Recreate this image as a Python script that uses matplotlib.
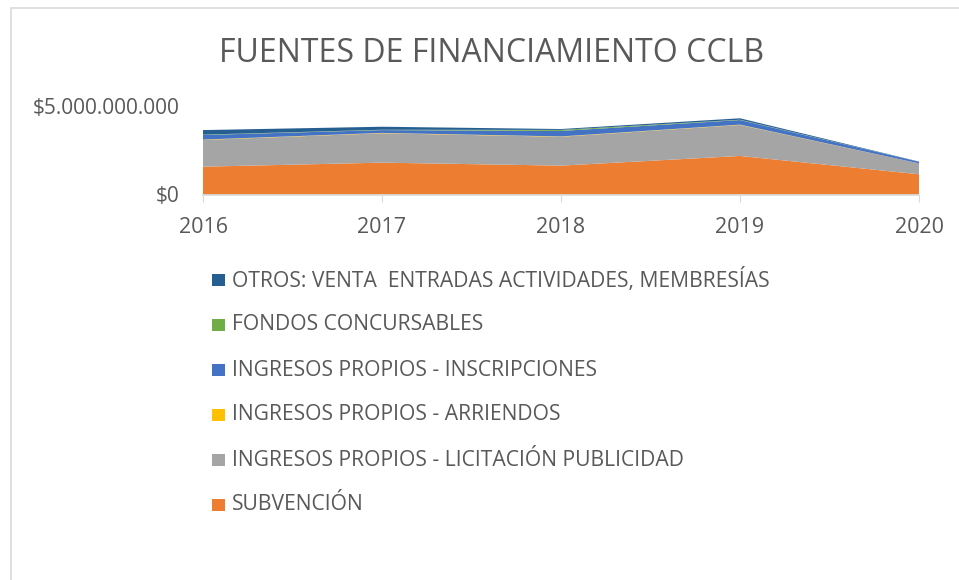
import numpy as np
import matplotlib.pyplot as plt
from matplotlib.patches import Rectangle
from matplotlib.ticker import FuncFormatter

plt.rcParams['font.family'] = ['Open Sans', 'DejaVu Sans']

years = [2016, 2017, 2018, 2019, 2020]
subvencion = [1.58e9, 1.81e9, 1.64e9, 2.19e9, 1.15e9]
licitacion = [1.52e9, 1.67e9, 1.64e9, 1.76e9, 0.62e9]
arriendos = [0.02e9, 0.02e9, 0.02e9, 0.02e9, 0.0]
inscripciones = [0.26e9, 0.16e9, 0.31e9, 0.26e9, 0.09e9]
fondos = [0.02e9, 0.02e9, 0.06e9, 0.02e9, 0.0]
otros = [0.26e9, 0.17e9, 0.05e9, 0.08e9, 0.01e9]

labels = ['SUBVENCIÓN', 'INGRESOS PROPIOS - LICITACIÓN PUBLICIDAD',
          'INGRESOS PROPIOS - ARRIENDOS', 'INGRESOS PROPIOS - INSCRIPCIONES',
          'FONDOS CONCURSABLES', 'OTROS: VENTA  ENTRADAS ACTIVIDADES, MEMBRESÍAS']
colors = ['#ED7D31', '#A5A5A5', '#FFC000', '#4472C4', '#70AD47', '#255E91']
series = [subvencion, licitacion, arriendos, inscripciones, fondos, otros]

text_col = '#595959'
W, H = 959, 580
fig = plt.figure(figsize=(W / 100, H / 100), dpi=100)
ax = fig.add_axes([203 / W, 1 - 194.5 / H, (919 - 203) / W, 88 / H])

ax.stackplot(years, *series, colors=colors, labels=labels, linewidth=0)

ax.set_xlim(2016, 2020)
ax.set_ylim(0, 5e9)
ax.set_yticks([0, 5e9])
ax.yaxis.set_major_formatter(FuncFormatter(lambda v, p: '$' + f'{int(v):,}'.replace(',', '.')))
ax.set_xticks(years)
ax.grid(axis='y', color='#D9D9D9', linewidth=1.2)
ax.set_axisbelow(True)
for s in ['top', 'right', 'left']:
    ax.spines[s].set_visible(False)
ax.spines['bottom'].set_color('#D9D9D9')
ax.spines['bottom'].set_linewidth(1.2)
ax.tick_params(axis='y', length=0, labelsize=15, labelcolor=text_col, pad=17)
ax.tick_params(axis='x', length=5, color='#D9D9D9', labelsize=15.5, labelcolor=text_col, pad=11)

fig.text(492 / W, 1 - 53 / H, 'FUENTES DE FINANCIAMIENTO CCLB', ha='center', va='center',
         fontsize=23, color=text_col)

# legend, top entry first
for i, idx in enumerate(range(5, -1, -1)):
    y = 280 + i * 45
    fig.patches.append(Rectangle((212 / W, 1 - (y + 6) / H), 13 / W, 12 / H,
                                 transform=fig.transFigure, facecolor=colors[idx],
                                 edgecolor='none'))
    fig.text(232 / W, 1 - y / H, labels[idx], ha='left', va='center',
             fontsize=15.2, color=text_col)

# chart border
fig.patches.append(Rectangle((11 / W, -0.1), 1.2, 1 - 8 / H + 0.1, transform=fig.transFigure,
                             facecolor='none', edgecolor='#D9D9D9', linewidth=1.2))

fig.savefig('out.png', dpi=100)
